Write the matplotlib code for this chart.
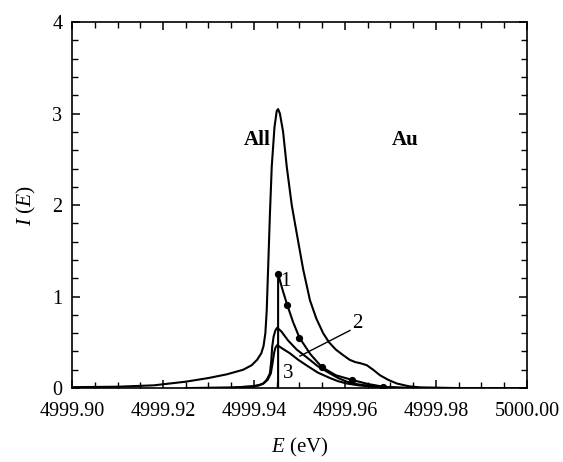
import matplotlib
matplotlib.use("Agg")
import matplotlib.pyplot as plt
from matplotlib.ticker import MultipleLocator, FormatStrFormatter

plt.rcParams['font.family'] = ['Liberation Serif', 'DejaVu Serif']
plt.rcParams['mathtext.fontset'] = 'custom'
plt.rcParams['mathtext.rm'] = 'Liberation Serif'
plt.rcParams['mathtext.it'] = 'Liberation Serif:italic'

# "All" spectrum
all_x = [4999.900, 4999.910, 4999.918, 4999.925, 4999.930, 4999.934, 4999.9376, 4999.9395,
         4999.9407, 4999.9416, 4999.9421, 4999.9425, 4999.9428, 4999.9431, 4999.9435,
         4999.9439, 4999.9445, 4999.9450, 4999.9453, 4999.9457, 4999.9464, 4999.9472,
         4999.9483, 4999.9494, 4999.9508, 4999.9523, 4999.9537, 4999.9552, 4999.9565,
         4999.9580, 4999.9596, 4999.9610, 4999.9622, 4999.9635, 4999.9648, 4999.9662,
         4999.9677, 4999.9695, 4999.9714, 4999.9740, 4999.9765, 4999.985, 5000.000]
all_y = [0.01, 0.015, 0.03, 0.07, 0.11, 0.15, 0.20, 0.25,
         0.31, 0.38, 0.46, 0.60, 0.85, 1.30, 1.90,
         2.42, 2.85, 3.03, 3.05, 3.00, 2.80, 2.42,
         2.00, 1.69, 1.30, 0.96, 0.76, 0.60, 0.50,
         0.42, 0.36, 0.31, 0.285, 0.27, 0.25, 0.20,
         0.14, 0.09, 0.05, 0.02, 0.008, 0.0, 0.0]

# Curve 1 (with dots)
c1_x = [4999.9453, 4999.9453, 4999.9463, 4999.9473, 4999.9486, 4999.9500, 4999.9524,
        4999.9549, 4999.9580, 4999.9615, 4999.9650, 4999.9684, 4999.9720, 4999.9750]
c1_y = [0.0, 1.25, 1.07, 0.91, 0.72, 0.55, 0.37,
        0.23, 0.14, 0.09, 0.045, 0.015, 0.003, 0.0]
dots_x = [4999.9453, 4999.9473, 4999.9500, 4999.9549, 4999.9615, 4999.9684]
dots_y = [1.25, 0.91, 0.55, 0.23, 0.09, 0.015]

# Curve 2
c2_x = [4999.925, 4999.935, 4999.9398, 4999.9412, 4999.9420, 4999.9428, 4999.9435,
        4999.9438, 4999.9440, 4999.9443, 4999.9447, 4999.9451, 4999.9460, 4999.9475,
        4999.9494, 4999.9515, 4999.9540, 4999.9567, 4999.9585, 4999.9604, 4999.9630,
        4999.9660, 4999.9700, 4999.9750]
c2_y = [0.0, 0.005, 0.02, 0.035, 0.05, 0.09, 0.16,
        0.30, 0.45, 0.56, 0.63, 0.66, 0.62, 0.52,
        0.42, 0.34, 0.24, 0.16, 0.11, 0.07, 0.04,
        0.02, 0.007, 0.0]

# Curve 3
c3_x = [4999.925, 4999.935, 4999.9398, 4999.9412, 4999.9421, 4999.9430, 4999.9437,
        4999.9441, 4999.9444, 4999.9447, 4999.9451, 4999.9460, 4999.9479, 4999.9497,
        4999.9515, 4999.9540, 4999.9567, 4999.9585, 4999.9604, 4999.9630, 4999.9660,
        4999.9700, 4999.9750]
c3_y = [0.0, 0.004, 0.018, 0.03, 0.05, 0.09, 0.16,
        0.28, 0.38, 0.44, 0.47, 0.44, 0.38, 0.31,
        0.25, 0.17, 0.11, 0.075, 0.05, 0.03, 0.015,
        0.005, 0.0]

fig = plt.figure(figsize=(5.63, 4.62), dpi=100)
ax = fig.add_axes([0.1279, 0.160, 0.936 - 0.1279, 0.952 - 0.160])

lw = 1.5
ax.plot(all_x, all_y, color='black', lw=lw)
ax.plot(c1_x, c1_y, color='black', lw=lw)
ax.plot(dots_x, dots_y, 'o', color='black', ms=4.2)
ax.plot(c2_x, c2_y, color='black', lw=lw)
ax.plot(c3_x, c3_y, color='black', lw=lw)

# leader line for label 2
ax.plot([4999.9611, 4999.9501], [0.63, 0.35], color='black', lw=1.0)

fs = 15
ax.text(4999.9437, 2.71, 'All', ha='right', va='center', fontsize=fs, fontweight='bold')
ax.text(4999.9732, 2.71, 'Au', ha='center', va='center', fontsize=fs, fontweight='bold')
ax.text(4999.9468, 1.16, '1', ha='center', va='center', fontsize=fs)
ax.text(4999.9626, 0.71, '2', ha='center', va='center', fontsize=fs)
ax.text(4999.9475, 0.16, '3', ha='center', va='center', fontsize=fs)

ax.set_xlim(4999.90, 5000.00)
ax.set_ylim(0, 4)
ax.xaxis.set_major_locator(MultipleLocator(0.02))
ax.xaxis.set_minor_locator(MultipleLocator(0.005))
ax.xaxis.set_major_formatter(FormatStrFormatter('%.2f'))
ax.yaxis.set_major_locator(MultipleLocator(1))
ax.yaxis.set_minor_locator(MultipleLocator(0.2))
ax.tick_params(which='both', direction='in', top=True, right=True, labelsize=14.5)
ax.tick_params(axis='x', which='major', pad=10)
ax.tick_params(axis='y', which='major', pad=7)
ax.tick_params(which='major', length=6, width=1.1)
ax.tick_params(which='minor', length=4, width=1.0)
for s in ax.spines.values():
    s.set_linewidth(1.2)

ax.set_xlabel('$E$ (eV)', fontsize=15, labelpad=11)
ax.set_ylabel('$I$ ($E$)', fontsize=15.5, labelpad=10)

fig.savefig('out.png', dpi=100)
